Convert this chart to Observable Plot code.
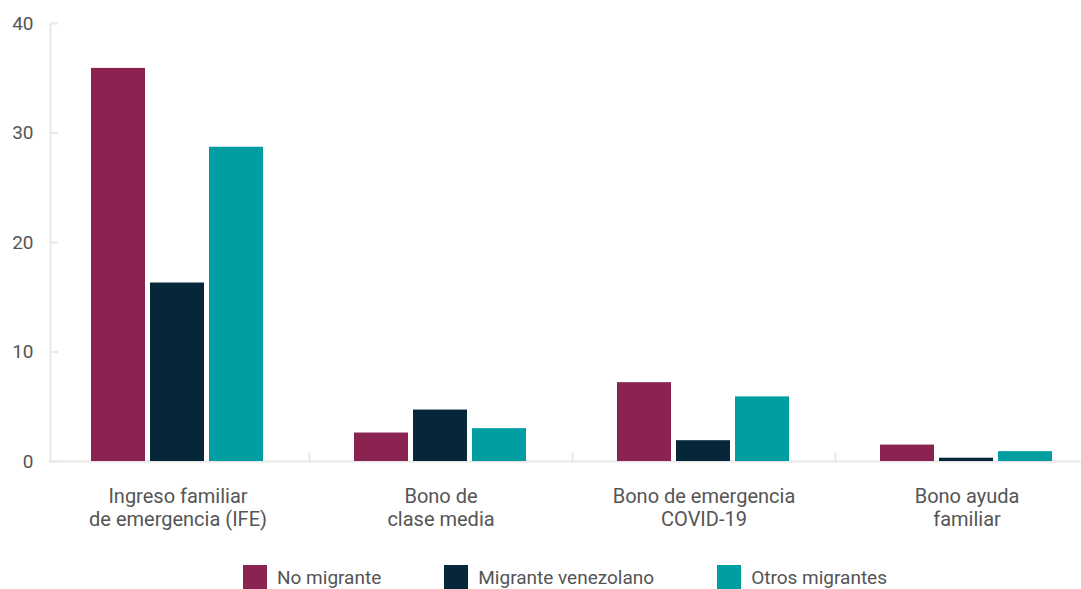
<!DOCTYPE html>
<html>
<head>
<meta charset="utf-8">
<script src="https://cdn.jsdelivr.net/npm/d3@7"></script>
<script src="https://cdn.jsdelivr.net/npm/@observablehq/plot@0.6"></script>
<style>
  html, body { margin: 0; padding: 0; background: #fff; overflow: hidden; }
  #wrap { width: 1081px; height: 589px; overflow: hidden; position: relative; }
  #chart svg { display: block; overflow: hidden; }
  .legend { display: flex; justify-content: center; gap: 63px; padding-left: 49px; margin-top: 20px;
            font-family: Roboto, "Open Sans", sans-serif; font-size: 19px; color: #555; }
  .legend .item { display: flex; align-items: center; white-space: nowrap; }
  .legend .sw { width: 24px; height: 24px; margin-right: 10px; flex: none; }
</style>
</head>
<body>
<div id="wrap">
  <div id="chart"></div>
  <div class="legend" id="legend"></div>
</div>
<script>
// ---- data ----
const categories = [
  "Ingreso familiar de emergencia (IFE)",
  "Bono de clase media",
  "Bono de emergencia COVID-19",
  "Bono ayuda familiar"
];
const categoryLabels = [
  "Ingreso familiar\nde emergencia (IFE)",
  "Bono de\nclase media",
  "Bono de emergencia\nCOVID-19",
  "Bono ayuda\nfamiliar"
];
const series = ["No migrante", "Migrante venezolano", "Otros migrantes"];
const noMigrante = [35.9, 2.6, 7.2, 1.5];
const migranteVenezolano = [16.3, 4.7, 1.9, 0.3];
const otrosMigrantes = [28.7, 3.0, 5.9, 0.9];
const seriesColors = ["#8a2352", "#06263a", "#009da1"];
const yTicks = [0, 10, 20, 30, 40];

const seriesValues = [noMigrante, migranteVenezolano, otrosMigrantes];
const table = categories.flatMap((c, i) =>
  series.map((s, j) => ({category: c, series: s, value: seriesValues[j][i]}))
);

const axisGray = "#e8e8e8";

const plot = Plot.plot({
  width: 1081,
  height: 545,
  marginTop: 23,
  marginBottom: 84,
  marginLeft: 45,
  marginRight: -18,
  style: {fontFamily: "Roboto, 'Open Sans', sans-serif", color: "#555", background: "#fff"},
  fx: {domain: categories, padding: 0, label: null, axis: null},
  x: {domain: series, paddingInner: 0.083, paddingOuter: 0.74, axis: null},
  y: {domain: [0, 40], label: null, axis: null},
  color: {domain: series, range: seriesColors},
  marks: [
    Plot.frame({anchor: "right", insetTop: 430, stroke: axisGray, strokeWidth: 2}),
    Plot.frame({anchor: "left", facet: "super", dx: 4, stroke: axisGray, strokeWidth: 2}),
    Plot.frame({anchor: "bottom", facet: "super", insetLeft: 3, stroke: axisGray, strokeWidth: 2}),
    Plot.barY(table, {fx: "category", x: "series", y: "value", fill: "series"}),
    Plot.axisY({anchor: "left", ticks: yTicks, tickSize: -8, dx: 4, stroke: axisGray, strokeWidth: 2, fill: "none", label: null}),
    Plot.axisY({anchor: "left", ticks: yTicks, tickSize: 0, tickPadding: 13, fontSize: 19, fill: "#555", label: null}),
    Plot.axisFx({anchor: "bottom", tickSize: 0, tickPadding: 25, fontSize: 20, lineHeight: 1.15, fill: "#555",
                 tickFormat: d => categoryLabels[categories.indexOf(d)], label: null})
  ]
});
document.getElementById("chart").appendChild(plot);

const color = plot.scale("color");
const legend = document.getElementById("legend");
series.forEach(s => {
  const item = document.createElement("div");
  item.className = "item";
  const sw = document.createElement("span");
  sw.className = "sw";
  sw.style.background = color.apply(s);
  const label = document.createElement("span");
  label.textContent = s;
  item.appendChild(sw);
  item.appendChild(label);
  legend.appendChild(item);
});
</script>
</body>
</html>
